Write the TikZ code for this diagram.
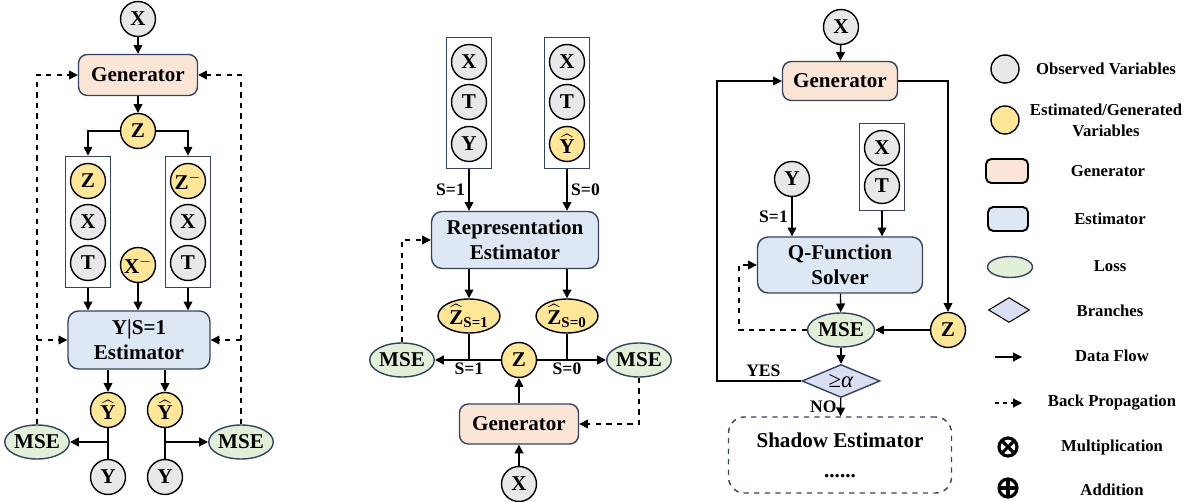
\documentclass[tikz,border=0pt]{standalone}
\usepackage{fontspec}
\usepackage{amsmath}
\setmainfont{Liberation Serif}
\usetikzlibrary{arrows.meta,shapes.geometric,positioning,fit}

\definecolor{obsgray}{HTML}{E8E8E8}
\definecolor{genyellow}{HTML}{FFE699}
\definecolor{genpeach}{HTML}{FBE5D6}
\definecolor{estblue}{HTML}{DEE8F5}
\definecolor{lossgreen}{HTML}{E2F0D9}
\definecolor{branchblue}{HTML}{D9DEF2}
\definecolor{edgeblue}{HTML}{34445E}

\newcommand{\subsz}[1]{\text{\fontsize{8.5}{10}\selectfont #1}}

\tikzset{
  var/.style={circle, draw=black, thick, minimum size=0.7cm, inner sep=0pt, font=\bfseries\large},
  obs/.style={var, fill=obsgray},
  gvar/.style={var, fill=genyellow},
  gell/.style={ellipse, draw=black, thick, fill=genyellow, minimum width=1.24cm, minimum height=0.68cm, inner sep=0pt, font=\bfseries\large},
  genbox/.style={rectangle, rounded corners=5pt, draw=edgeblue, thick, fill=genpeach, font=\bfseries\large},
  estbox/.style={rectangle, rounded corners=6pt, draw=edgeblue, thick, fill=estblue, font=\bfseries\large, align=center},
  loss/.style={ellipse, draw=edgeblue, thick, fill=lossgreen, minimum width=1.26cm, minimum height=0.68cm, inner sep=0pt, font=\bfseries\large},
  colbox/.style={rectangle, draw=edgeblue, semithick, inner xsep=2.3pt, inner ysep=3.8pt},
  lbl/.style={font=\bfseries, inner sep=2pt},
  back/.style={->, dashed},
  legtext/.style={font=\bfseries\fontsize{9.5}{12}\selectfont, align=center}
}

\begin{document}
\begin{tikzpicture}[x=0.02cm, y=-0.02cm, thick, >={Triangle[length=5pt,width=5pt]}]
  \useasboundingbox (0,0) rectangle (1193,502);

  \node[obs] (lx) at (138,19) {X};
  \node[genbox, minimum width=2.38cm, minimum height=0.82cm] (lgen) at (138,75) {Generator};
  \node[gvar] (lz) at (138,131) {Z};
  \node[gvar] (lz1) at (88,181) {Z};
  \node[obs] (lx1) at (88,222) {X};
  \node[obs] (lt1) at (88,263) {T};
  \node[colbox, fit=(lz1)(lt1)] (lcol1) {};
  \node[gvar] (lz2) at (188,181) {$\text{Z}^{-}$};
  \node[obs] (lx2) at (188,222) {X};
  \node[obs] (lt2) at (188,263) {T};
  \node[colbox, fit=(lz2)(lt2)] (lcol2) {};
  \node[gvar] (lxm) at (138,265) {$\text{X}^{-}$};
  \node[estbox, minimum width=2.84cm, minimum height=1.16cm] (lest) at (139,340) {Y|S=1\\Estimator};
  \node[gvar] (lyh1) at (108,410) {$\widehat{\text{Y}}$};
  \node[gvar] (lyh2) at (165,410) {$\widehat{\text{Y}}$};
  \node[obs] (ly1) at (108,477) {Y};
  \node[obs] (ly2) at (165,477) {Y};
  \node[loss] (lmse1) at (37,442) {MSE};
  \node[loss] (lmse2) at (241,442) {MSE};

  \draw[->] (lx) -- (lgen);
  \draw[->] (lgen) -- (lz);
  \draw[->] (lz) -| (lcol1);
  \draw[->] (lz) -| (lcol2);
  \draw[->] (lcol1) -- (lcol1 |- lest.north);
  \draw[->] (lxm) -- (lxm |- lest.north);
  \draw[->] (lcol2) -- (lcol2 |- lest.north);
  \draw[->] (lest.south -| lyh1) -- (lyh1);
  \draw[->] (lest.south -| lyh2) -- (lyh2);
  \draw (lyh1) -- (ly1);
  \draw (lyh2) -- (ly2);
  \draw[->] (lyh1 |- lmse1) -- (lmse1);
  \draw[->] (lyh2 |- lmse2) -- (lmse2);
  \draw[back] (lmse1) |- (lgen);
  \draw[back] (lmse1 |- lest) -- (lest);
  \draw[back] (lmse2) |- (lgen);
  \draw[back] (lmse2 |- lest) -- (lest);

  \node[obs] (mx1) at (469,62) {X};
  \node[obs] (mt1) at (469,102) {T};
  \node[obs] (my1) at (469,144) {Y};
  \node[colbox, fit=(mx1)(my1)] (mcol1) {};
  \node[obs] (mx2) at (567,62) {X};
  \node[obs] (mt2) at (567,102) {T};
  \node[gvar] (myh2) at (567,144) {$\widehat{\text{Y}}$};
  \node[colbox, fit=(mx2)(myh2)] (mcol2) {};
  \node[estbox, minimum width=3.34cm, minimum height=1.14cm] (mest) at (515,240) {Representation\\Estimator};
  \node[gell] (mzh1) at (469,316) {$\widehat{\text{Z}}_{\subsz{S=1}}$};
  \node[gell] (mzh2) at (567,316) {$\widehat{\text{Z}}_{\subsz{S=0}}$};
  \node[gvar] (mz) at (519,360) {Z};
  \node[loss] (mmse1) at (402,360) {MSE};
  \node[loss] (mmse2) at (639,360) {MSE};
  \node[genbox, minimum width=2.38cm, minimum height=0.8cm] (mgen) at (519,424) {Generator};
  \node[obs] (mx) at (519,484) {X};

  \draw[->] (mcol1) -- (mcol1 |- mest.north) node[midway, lbl, left] {S=1};
  \draw[->] (mcol2) -- (mcol2 |- mest.north) node[midway, lbl, right] {S=0};
  \draw[->] (mest.south -| mzh1) -- (mzh1);
  \draw[->] (mest.south -| mzh2) -- (mzh2);
  \draw[->] (mz) -- (mmse1);
  \draw[->] (mz) -- (mmse2);
  \draw (mzh1) -- (mzh1 |- mz) node[lbl, below, inner sep=1pt] {S=1};
  \draw (mzh2) -- (mzh2 |- mz) node[lbl, below, inner sep=1pt] {S=0};
  \draw[->] (mx) -- (mgen);
  \draw[->] (mgen) -- (mz);
  \draw[back] (mmse1) |- (mest);
  \draw[back] (mmse2) |- (mgen);

  \node[obs] (rx) at (841,27) {X};
  \node[genbox, minimum width=2.3cm, minimum height=0.78cm] (rgen) at (840,81) {Generator};
  \node[obs] (ry) at (792,179) {Y};
  \node[obs] (rx1) at (882,148) {X};
  \node[obs] (rt1) at (882,186) {T};
  \node[colbox, fit=(rx1)(rt1)] (rcol) {};
  \node[estbox, minimum width=3.3cm, minimum height=1.12cm] (rq) at (840,265) {Q-Function\\Solver};
  \node[loss, minimum width=1.34cm] (rmse) at (841,330) {MSE};
  \node[gvar] (rz) at (948,330) {Z};
  \node[diamond, draw=edgeblue, thick, fill=branchblue, shape aspect=2.4, minimum width=1.56cm, minimum height=0.66cm, inner sep=0pt, font=\fontsize{13}{14}\selectfont] (rbr) at (841,381) {≥\textit{α}};
  \node[rectangle, rounded corners=9pt, draw=edgeblue, dashed, thick, minimum width=4.46cm, minimum height=1.52cm, align=center, font=\bfseries\large] (rshadow) at (840,455) {Shadow Estimator\\[3pt]......};
  \coordinate (rbk) at (739,330);
  \coordinate (ryes) at (717,381);

  \draw[->] (rx) -- (rgen);
  \draw[->] (ry) -- (ry |- rq.north) node[midway, lbl, left] {S=1};
  \draw[->] (rcol) -- (rcol |- rq.north);
  \draw[->] (rgen) -| (rz);
  \draw[->] (rq) -- (rmse);
  \draw[->] (rz) -- (rmse);
  \draw[back] (rmse) -- (rbk) |- (rq);
  \draw[->] (rmse) -- (rbr);
  \draw[->] (rbr) -- (rshadow) node[midway, lbl, left] {NO};
  \draw[->] (rbr) -- node[lbl, above, pos=0.45] {YES} (ryes) |- (rgen);

  \node[obs, minimum size=0.56cm] (lgobs) at (1005,69) {};
  \node[legtext] (lgobst) at (1106,69) {Observed Variables};
  \node[gvar, minimum size=0.56cm] (lggen) at (1005,120) {};
  \node[legtext] (lggent) at (1106,120) {Estimated/Generated\\Variables};
  \node[rectangle, rounded corners=3pt, draw=black, line width=1.1pt, fill=genpeach, minimum width=0.84cm, minimum height=0.48cm] (lggb) at (1007,171) {};
  \node[legtext] (lggbt) at (1108,171) {Generator};
  \node[rectangle, rounded corners=3pt, draw=black, line width=1.1pt, fill=estblue, minimum width=0.8cm, minimum height=0.48cm] (lgeb) at (1008,219) {};
  \node[legtext] (lgebt) at (1110,219) {Estimator};
  \node[ellipse, draw=edgeblue, thick, fill=lossgreen, minimum width=0.9cm, minimum height=0.42cm, inner sep=0pt] (lgloss) at (1010,267) {};
  \node[legtext] (lglosst) at (1110,266) {Loss};
  \node[diamond, draw=black, semithick, fill=branchblue, shape aspect=1.6, minimum width=0.82cm, minimum height=0.5cm, inner sep=0pt] (lgbr) at (1009,310) {};
  \node[legtext] (lgbrt) at (1110,311) {Branches};
  \coordinate (lgf1) at (995,357);
  \coordinate (lgf2) at (1022,357);
  \draw[->, semithick] (lgf1) -- (lgf2);
  \node[legtext] (lgft) at (1112,356) {Data Flow};
  \coordinate (lgb1) at (995,403);
  \coordinate (lgb2) at (1022,403);
  \draw[back, semithick, dash pattern=on 2.5pt off 2pt] (lgb1) -- (lgb2);
  \node[legtext] (lgbt) at (1112,403) {Back Propagation};
  \node[circle, draw=black, line width=1.8pt, minimum size=0.36cm, inner sep=0pt, outer sep=0pt] (lgmul) at (1008,447) {};
  \draw[line width=1.8pt] (lgmul.north west) -- (lgmul.south east) (lgmul.north east) -- (lgmul.south west);
  \node[legtext] (lgmult) at (1112,447) {Multiplication};
  \node[circle, draw=black, line width=1.8pt, minimum size=0.36cm, inner sep=0pt, outer sep=0pt] (lgadd) at (1008,488) {};
  \draw[line width=1.8pt] (lgadd.north) -- (lgadd.south) (lgadd.east) -- (lgadd.west);
  \node[legtext] (lgaddt) at (1112,490) {Addition};
\end{tikzpicture}
\end{document}
